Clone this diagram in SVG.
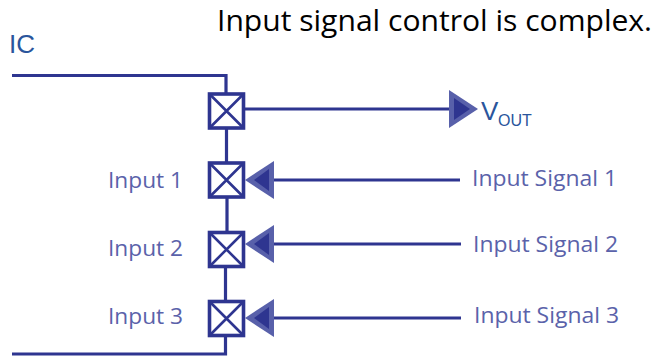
<svg xmlns="http://www.w3.org/2000/svg" width="658" height="356" viewBox="0 0 658 356">
<style>
.w{fill:none;stroke:#2e3590;stroke-width:3.2}
.box{fill:#fff;stroke:#2e3590;stroke-width:3.6}
.x{fill:none;stroke:#2e3590;stroke-width:2.6}
.ao{fill:#5860aa}
.ai{fill:#2e3590}
.lab{font-family:"Open Sans","Noto Sans",sans-serif;font-size:22px;fill:#5a62aa}
.ic{font-family:"Liberation Sans",Arial,sans-serif;fill:#2a559c}
.title{font-family:"Open Sans","Noto Sans",sans-serif;font-size:29px;fill:#000}
</style>
<defs>
<g id="sw"><rect class="box" x="-17" y="-17" width="34" height="34"/><path class="x" d="M-16-16L16 16M16-16L-16 16"/></g>
<g id="al"><path class="ao" d="M0 0L29-19V19Z"/><path class="ai" d="M9 0L24-11V11Z"/></g>
<g id="ar"><path class="ao" d="M29 0L0-19V19Z"/><path class="ai" d="M21 0L5-11V11Z"/></g>
</defs>
<text class="title" x="217" y="31" textLength="435" lengthAdjust="spacingAndGlyphs">Input signal control is complex.</text>
<g id="connectors">
<path class="w" d="M12 75.5H226V111"/>
<path class="w" d="M226.500 129V162"/>
<path class="w" d="M227 198V231"/>
<path class="w" d="M225.500 267V300"/>
<path class="w" d="M225.500 337V354H12"/>
<path class="w" d="M245 109H450"/>
<path class="w" d="M272 180H460"/>
<path class="w" d="M272 244H461"/>
<path class="w" d="M272 318H461"/>
</g>
<g id="ic-label"><text class="ic" x="9" y="53" font-size="26">IC</text></g>
<g id="switch-out"><use href="#sw" x="226.500" y="111"/></g>
<g id="switch-1"><use href="#sw" x="226.500" y="180"/><use href="#al" x="245" y="180"/></g>
<g id="switch-2"><use href="#sw" x="226.500" y="249.500"/><use href="#al" x="245" y="244"/></g>
<g id="switch-3"><use href="#sw" x="226.500" y="318.500"/><use href="#al" x="245" y="318"/></g>
<g id="vout"><use href="#ar" x="449" y="109"/><text class="ic" x="481" y="120" font-size="26">V</text><text class="ic" x="498" y="126" font-size="16">OUT</text></g>
<g id="input-1"><text class="lab" x="108" y="188" textLength="75" lengthAdjust="spacingAndGlyphs">Input 1</text></g>
<g id="input-2"><text class="lab" x="108" y="256" textLength="75" lengthAdjust="spacingAndGlyphs">Input 2</text></g>
<g id="input-3"><text class="lab" x="108" y="324" textLength="75" lengthAdjust="spacingAndGlyphs">Input 3</text></g>
<g id="signal-1"><text class="lab" x="472" y="186" textLength="145" lengthAdjust="spacingAndGlyphs">Input Signal 1</text></g>
<g id="signal-2"><text class="lab" x="473" y="252" textLength="145" lengthAdjust="spacingAndGlyphs">Input Signal 2</text></g>
<g id="signal-3"><text class="lab" x="474" y="323" textLength="145" lengthAdjust="spacingAndGlyphs">Input Signal 3</text></g>
</svg>
